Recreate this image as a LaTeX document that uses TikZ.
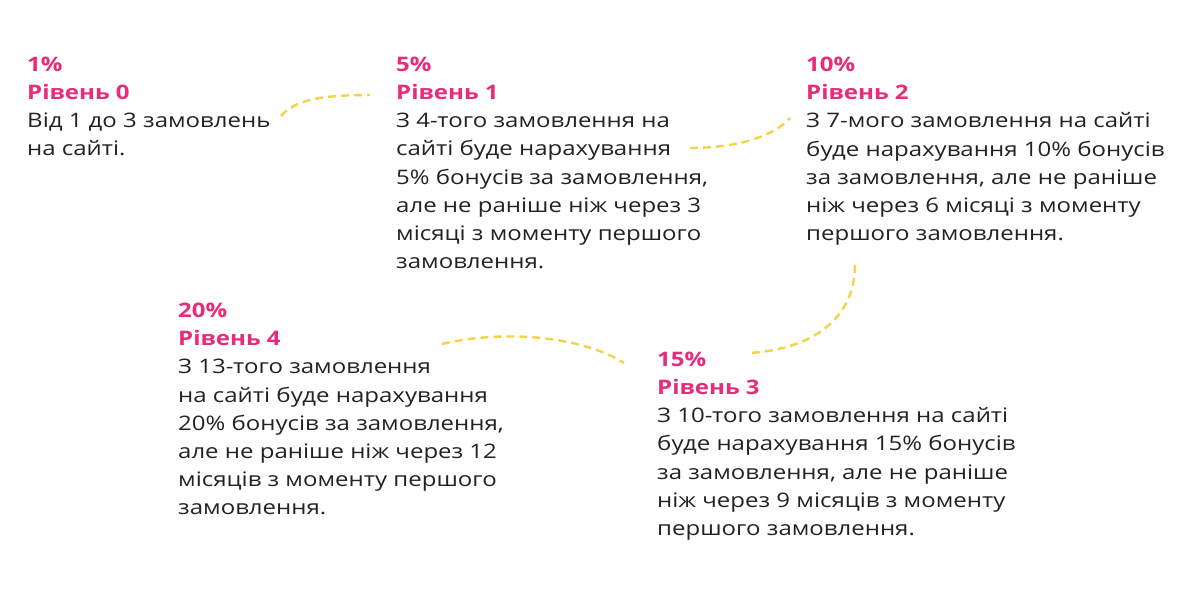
\documentclass[tikz,border=0pt]{standalone}
\usepackage{fontspec}
\setmainfont{Open Sans}[FakeStretch=1.2]
\definecolor{lvlpink}{HTML}{E62C7B}
\definecolor{dashyellow}{HTML}{F4D24A}
\definecolor{bodytext}{HTML}{222222}
\begin{document}
\begin{tikzpicture}[x=1pt,y=-1pt,
  block/.style={anchor=north west,inner sep=0pt,align=left,text=bodytext,
    font=\fontsize{20}{28.1}\selectfont},
  conn/.style={draw=dashyellow,line width=2.4pt,dash pattern=on 8pt off 5pt}]
\useasboundingbox (0,0) rectangle (1179,605);
\newcommand{\lvl}[2]{\textcolor{lvlpink}{\bfseries #1}\\\textcolor{lvlpink}{\bfseries Рівень #2}}
\node[block] (b0) at (27,57) {\lvl{1\%}{0}\\Від 1 до 3 замовлень\\на сайті.};
\node[block] (b1) at (396,57) {\lvl{5\%}{1}\\З 4-того замовлення на\\сайті буде нарахування\\5\% бонусів за замовлення,\\але не раніше ніж через 3\\місяці з моменту першого\\замовлення.};
\node[block] (b2) at (806,57) {\lvl{10\%}{2}\\З 7-мого замовлення на сайті\\буде нарахування 10\% бонусів\\за замовлення, але не раніше\\ніж через 6 місяці з моменту\\першого замовлення.};
\node[block] (b4) at (178,303) {\lvl{20\%}{4}\\З 13-того замовлення\\на сайті буде нарахування\\20\% бонусів за замовлення,\\але не раніше ніж через 12\\місяців з моменту першого\\замовлення.};
\node[block] (b3) at (657,352) {\lvl{15\%}{3}\\З 10-того замовлення на сайті\\буде нарахування 15\% бонусів\\за замовлення, але не раніше\\ніж через 9 місяців з моменту\\першого замовлення.};
\coordinate (c1a) at (281,116); \coordinate (c1b) at (370,95);
\coordinate (c2a) at (690,148); \coordinate (c2b) at (790,118);
\coordinate (c3a) at (855,265); \coordinate (c3b) at (748,353);
\coordinate (c4a) at (442,344); \coordinate (c4b) at (624,363);
\draw[conn] (c1a) .. controls (295,100) and (320,95) .. (c1b);
\draw[conn] (c2a) .. controls (740,148) and (775,135) .. (c2b);
\draw[conn] (c3a) .. controls (855,320) and (810,350) .. (c3b);
\draw[conn] (c4a) .. controls (500,330) and (580,335) .. (c4b);
\end{tikzpicture}
\end{document}
